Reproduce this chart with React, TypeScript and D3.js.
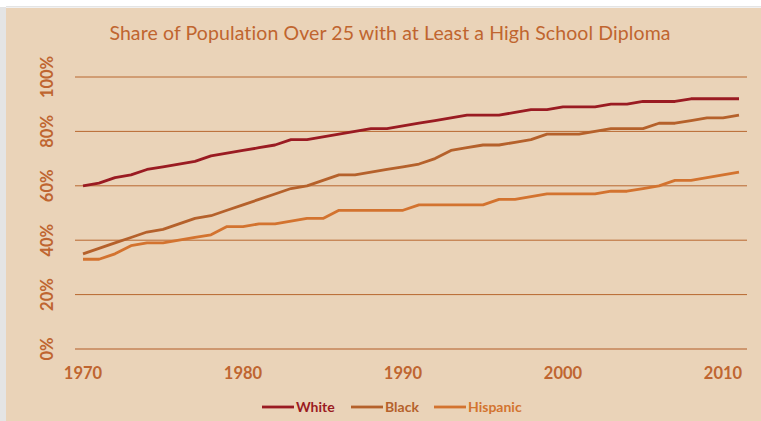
import React, { useEffect, useRef } from "react";
import * as d3 from "d3";

const years = d3.range(1970, 2012);
const white = [60, 61, 63, 64, 66, 67, 68, 69, 71, 72, 73, 74, 75, 77, 77, 78, 79, 80, 81, 81,
  82, 83, 84, 85, 86, 86, 86, 87, 88, 88, 89, 89, 89, 90, 90, 91, 91, 91, 92, 92, 92, 92];
const black = [35, 37, 39, 41, 43, 44, 46, 48, 49, 51, 53, 55, 57, 59, 60, 62, 64, 64, 65, 66,
  67, 68, 70, 73, 74, 75, 75, 76, 77, 79, 79, 79, 80, 81, 81, 81, 83, 83, 84, 85, 85, 86];
const hispanic = [33, 33, 35, 38, 39, 39, 40, 41, 42, 45, 45, 46, 46, 47, 48, 48, 51, 51, 51, 51,
  51, 53, 53, 53, 53, 53, 55, 55, 56, 57, 57, 57, 57, 58, 58, 59, 60, 62, 62, 63, 64, 65];
const yTicks = [0, 20, 40, 60, 80, 100];
const xTicks = [1970, 1980, 1990, 2000, 2010];
const seriesNames = ["White", "Black", "Hispanic"];
const seriesColors = ["#9a1b22", "#b5612b", "#d3732f"];

const W = 761, H = 421;
const labelColor = "#bf6530";
const font = "Lato, 'Open Sans', sans-serif";

export default function App() {
  const ref = useRef<SVGSVGElement>(null);

  useEffect(() => {
    document.body.style.margin = "0";
    const svg = d3.select(ref.current);
    svg.selectAll("*").remove();

    // page + panel
    svg.append("rect").attr("width", W).attr("height", H).attr("fill", "#ffffff");
    svg.append("rect").attr("x", 0).attr("y", 7).attr("width", 6).attr("height", H - 7).attr("fill", "#e4e4e4");
    svg.append("rect").attr("x", 6).attr("y", 6).attr("width", W - 6).attr("height", 1.5).attr("fill", "#e4e4e4");
    svg.append("rect").attr("x", 6).attr("y", 8).attr("width", W - 6).attr("height", H - 8).attr("fill", "#ead3b8");

    const x = d3.scalePoint<number>().domain(years).range([75, 747]).padding(0.5);
    const y = d3.scaleLinear().domain([0, 100]).range([349, 77]);

    // grid
    const g = svg.append("g");
    g.selectAll(".grid")
      .data(yTicks)
      .join("line")
      .attr("class", "grid")
      .attr("x1", 75).attr("x2", 747)
      .attr("y1", d => y(d)).attr("y2", d => y(d))
      .attr("stroke", d => (d === 0 ? "#c48357" : "#b8672f"))
      .attr("stroke-width", d => (d === 0 ? 1.5 : 1));

    // y labels
    g.selectAll(".ylab")
      .data(yTicks)
      .join("text")
      .attr("class", "ylab")
      .attr("transform", d => `translate(53, ${y(d)}) rotate(-90)`)
      .attr("text-anchor", "middle")
      .attr("font-family", font).attr("font-weight", "bold").attr("font-size", 16.5)
      .attr("fill", labelColor)
      .text(d => `${d}%`);

    // x labels
    g.selectAll(".xlab")
      .data(xTicks)
      .join("text")
      .attr("class", "xlab")
      .attr("x", d => x(d)!).attr("y", 379)
      .attr("text-anchor", "middle")
      .attr("font-family", font).attr("font-weight", "bold").attr("font-size", 16.5)
      .attr("fill", labelColor)
      .text(d => d);

    // lines
    const line = d3.line<number>().x((d, i) => x(years[i])!).y(d => y(d));
    const data = [white, black, hispanic];
    [2, 1, 0].forEach(k => {
      g.append("path")
        .datum(data[k])
        .attr("d", line)
        .attr("fill", "none")
        .attr("stroke", seriesColors[k])
        .attr("stroke-width", 2.8)
        .attr("stroke-linejoin", "round");
    });

    // title
    svg.append("text")
      .attr("x", 390).attr("y", 40)
      .attr("text-anchor", "middle")
      .attr("font-family", font).attr("font-size", 19.5)
      .attr("letter-spacing", 0.1)
      .attr("fill", "#c0652f")
      .text("Share of Population Over 25 with at Least a High School Diploma");

    // legend
    const legX = [262, 351, 434];
    const leg = svg.selectAll(".leg").data(seriesNames).join("g").attr("class", "leg")
      .attr("transform", (d, i) => `translate(${legX[i]}, 407)`);
    leg.append("line").attr("x1", 0).attr("x2", 32).attr("y1", 0).attr("y2", 0)
      .attr("stroke", (d, i) => seriesColors[i]).attr("stroke-width", 2.8);
    leg.append("text").attr("x", 34).attr("y", 5)
      .attr("font-family", font).attr("font-weight", "bold").attr("font-size", 14)
      .attr("fill", (d, i) => seriesColors[i])
      .text(d => d);
  }, []);

  return <svg ref={ref} width={W} height={H} style={{ display: "block" }} />;
}
